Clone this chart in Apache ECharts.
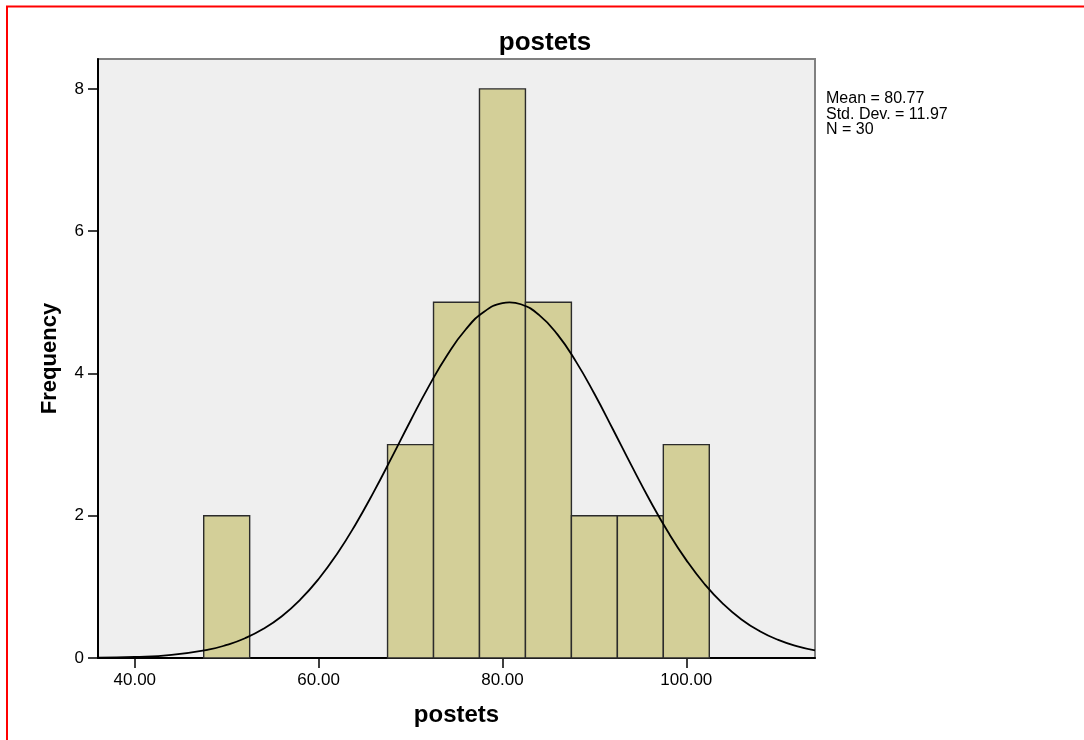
<!DOCTYPE html>
<html>
<head>
<meta charset="utf-8">
<script src="https://cdn.jsdelivr.net/npm/echarts@6/dist/echarts.min.js"></script>
<style>
  html, body { margin: 0; padding: 0; background: #fff; }
  #main { width: 1084px; height: 740px; }
</style>
</head>
<body>
<div id="main"></div>
<script>
// histogram bins (lower edge, upper edge) and counts
var binStart = [47.5, 67.5, 72.5, 77.5, 82.5, 87.5, 92.5, 97.5];
var binEnd   = [52.5, 72.5, 77.5, 82.5, 87.5, 92.5, 97.5, 102.5];
var counts   = [2, 3, 5, 8, 5, 2, 2, 3];

// normal curve points
var curveX = [36, 40, 44, 48, 50, 52, 54, 56, 58, 60, 62, 64, 66, 68, 70, 72, 74, 76, 78, 80, 80.77,
              82, 84, 86, 88, 90, 92, 94, 96, 98, 100, 102, 104, 106, 108, 110, 112, 114];
var curveY = [0.005, 0.015, 0.045, 0.118, 0.184, 0.278, 0.41, 0.587, 0.819, 1.11, 1.462, 1.874, 2.335, 2.83, 3.335, 3.822, 4.26, 4.618, 4.867, 4.989, 5.0,
              4.973, 4.82, 4.545, 4.166, 3.714, 3.219, 2.714, 2.225, 1.774, 1.376, 1.037, 0.761, 0.542, 0.376, 0.254, 0.166, 0.106];

var xTicks = [40, 60, 80, 100];
var yTicks = [0, 2, 4, 6, 8];
var statLines = ['Mean = 80.77', 'Std. Dev. = 11.97', 'N = 30'];

var FONT = '"Liberation Sans", Arial, sans-serif';
var chart = echarts.init(document.getElementById('main'));

var barData = binStart.map(function (s, i) { return [s, binEnd[i], counts[i]]; });
var lineData = curveX.map(function (x, i) { return [x, curveY[i]]; });

chart.setOption({
  animation: false,
  textStyle: { fontFamily: FONT },
  title: {
    text: 'postets',
    left: 540,
    top: 25,
    textAlign: 'center',
    textStyle: { fontSize: 26, fontWeight: 'bold', color: '#000', fontFamily: FONT }
  },
  grid: {
    left: 98, right: 269, top: 59, bottom: 82,
    show: true,
    backgroundColor: '#efefef',
    borderColor: '#808080',
    borderWidth: 2
  },
  xAxis: {
    type: 'value',
    min: 36,
    max: 114,
    name: 'postets',
    nameLocation: 'middle',
    nameGap: 45,
    nameTextStyle: { fontSize: 24, fontWeight: 'bold', color: '#000' },
    axisLine: { show: true, onZero: false, lineStyle: { color: '#000', width: 2 } },
    axisTick: { show: true, length: 10, customValues: xTicks, lineStyle: { color: '#000', width: 1.5 } },
    axisLabel: {
      customValues: xTicks,
      margin: 14,
      fontSize: 17,
      color: '#000',
      formatter: function (v) { return v.toFixed(2); }
    },
    splitLine: { show: false }
  },
  yAxis: {
    type: 'value',
    min: 0,
    max: 8.42,
    name: 'Frequency',
    nameLocation: 'middle',
    nameRotate: 90,
    nameGap: 37,
    nameTextStyle: { fontSize: 22, fontWeight: 'bold', color: '#000' },
    axisLine: { show: true, lineStyle: { color: '#000', width: 2 } },
    axisTick: { show: true, length: 10, customValues: yTicks, lineStyle: { color: '#000', width: 1.5 } },
    axisLabel: { customValues: yTicks, margin: 14, fontSize: 17, color: '#000' },
    splitLine: { show: false }
  },
  series: [
    {
      type: 'custom',
      data: barData,
      encode: { x: [0, 1], y: 2 },
      renderItem: function (params, api) {
        var p0 = api.coord([api.value(0), api.value(2)]);
        var p1 = api.coord([api.value(1), 0]);
        return {
          type: 'rect',
          shape: { x: p0[0], y: p0[1], width: p1[0] - p0[0], height: p1[1] - p0[1] },
          style: { fill: '#d3cf98', stroke: '#2b2b2b', lineWidth: 1.4 }
        };
      },
      z: 2
    },
    {
      type: 'line',
      data: lineData,
      smooth: true,
      symbol: 'none',
      lineStyle: { color: '#000', width: 1.8 },
      z: 3
    }
  ],
  graphic: [
    {
      type: 'text',
      left: 826,
      top: 91,
      style: {
        text: statLines.join('\n'),
        font: '16px ' + FONT,
        lineHeight: 15.5,
        fill: '#000'
      }
    },
    {
      type: 'line',
      shape: { x1: 6, y1: 6.5, x2: 1084, y2: 6.5 },
      style: { stroke: '#ff0000', lineWidth: 2 }
    },
    {
      type: 'line',
      shape: { x1: 7, y1: 6, x2: 7, y2: 740 },
      style: { stroke: '#ff0000', lineWidth: 2 }
    }
  ]
});
</script>
</body>
</html>
